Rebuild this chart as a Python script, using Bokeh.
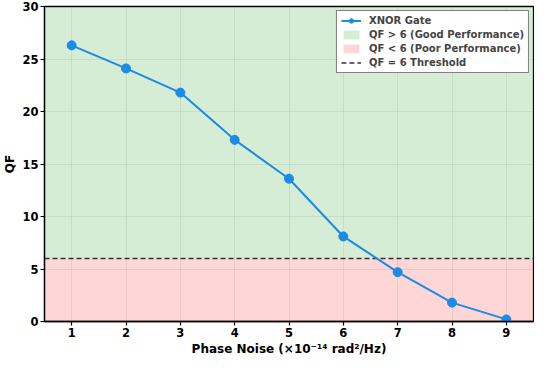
from bokeh.plotting import figure
from bokeh.models import Range1d, Legend, LegendItem, FixedTicker, ColumnDataSource
from bokeh.embed import file_html
from bokeh.resources import INLINE

# data
phase_noise = [1, 2, 3, 4, 5, 6, 7, 8, 9]
qf_xnor = [26.3, 24.1, 21.8, 17.3, 13.6, 8.1, 4.7, 1.8, 0.2]
threshold = 6
x_lo, x_hi = 0.5, 9.5
y_lo, y_hi = 0, 30
y_ticks = [0, 5, 10, 15, 20, 25, 30]

FONT = "DejaVu Sans"
BLUE = "#1a8be6"

p = figure(width=534, height=358, output_backend="svg", toolbar_location=None,
           x_range=Range1d(x_lo, x_hi), y_range=Range1d(y_lo, y_hi),
           min_border_left=38, min_border_right=1, min_border_top=6, min_border_bottom=30)

good = p.quad(left=[x_lo], right=[x_hi], bottom=[threshold], top=[y_hi],
              fill_color="#2ca02c", fill_alpha=0.2, line_color=None)
poor = p.quad(left=[x_lo], right=[x_hi], bottom=[y_lo], top=[threshold],
              fill_color="#ff0000", fill_alpha=0.16, line_color=None)
thr = p.line(x=[x_lo, x_hi], y=[threshold, threshold], line_color="#333333",
             line_width=1.5, line_dash="5 3")

src = ColumnDataSource(dict(x=phase_noise, y=qf_xnor))
ln = p.line("x", "y", source=src, line_color=BLUE, line_width=2)
sc = p.scatter("x", "y", source=src, size=9, fill_color=BLUE, line_color=BLUE)

legend = Legend(items=[
    LegendItem(label="XNOR Gate", renderers=[ln, sc]),
    LegendItem(label="QF > 6 (Good Performance)", renderers=[good]),
    LegendItem(label="QF < 6 (Poor Performance)", renderers=[poor]),
    LegendItem(label="QF = 6 Threshold", renderers=[thr]),
], location="top_right")
legend.label_text_font = FONT
legend.label_text_font_style = "bold"
legend.label_text_font_size = "10px"
legend.label_height = 11
legend.glyph_height = 11
legend.glyph_width = 20
legend.label_standoff = 8
legend.spacing = 3
legend.padding = 4
legend.margin = 4
legend.border_line_color = "black"
legend.border_line_width = 1.2
legend.background_fill_alpha = 1
p.add_layout(legend)

p.xaxis.ticker = FixedTicker(ticks=phase_noise)
p.yaxis.ticker = FixedTicker(ticks=y_ticks)
p.xaxis.axis_label = "Phase Noise (×10⁻¹⁴ rad²/Hz)"
p.yaxis.axis_label = "QF"
for ax in (p.xaxis, p.yaxis):
    ax.axis_label_text_font = FONT
    ax.axis_label_text_font_style = "bold"
    ax.axis_label_text_font_size = "12px"
    ax.major_label_text_font = FONT
    ax.major_label_text_font_style = "bold"
    ax.major_label_text_font_size = "11.5px"
    ax.major_label_text_color = "black"
    ax.axis_label_text_color = "black"
    ax.minor_tick_line_color = None
    ax.major_tick_out = 4
    ax.major_tick_in = 0
    ax.axis_line_width = 1.3
    ax.major_tick_line_width = 1.2
    ax.axis_label_standoff = 2
    ax.major_label_standoff = 2

p.xgrid.grid_line_color = "black"
p.xgrid.grid_line_alpha = 0.07
p.ygrid.grid_line_color = "black"
p.ygrid.grid_line_alpha = 0.07
p.outline_line_color = "black"
p.outline_line_width = 1.3
p.outline_line_alpha = 1

open("out.html", "w").write(file_html(p, INLINE))
